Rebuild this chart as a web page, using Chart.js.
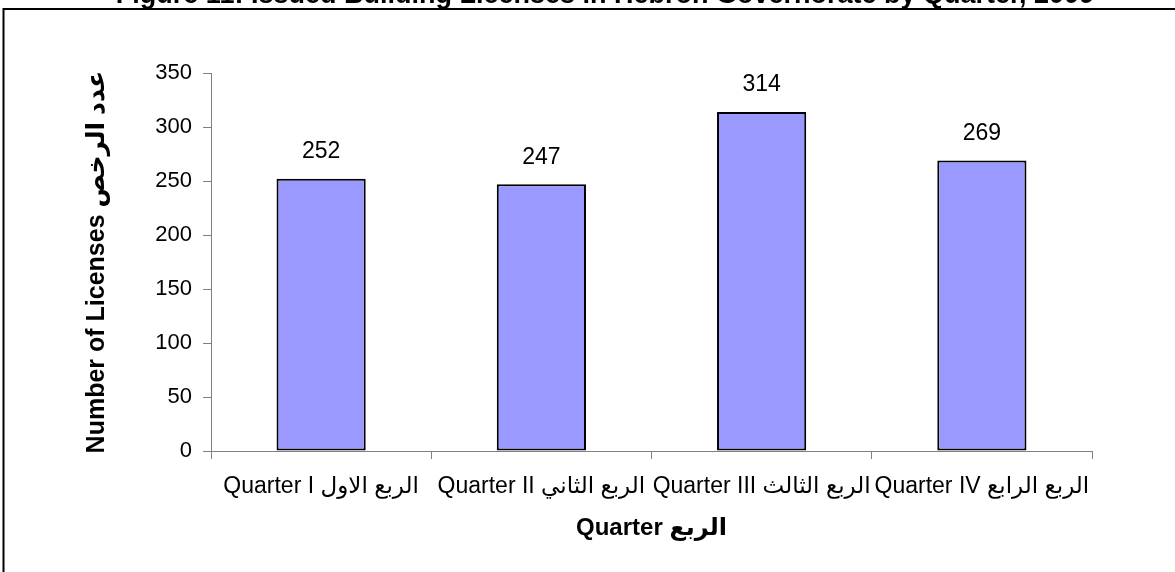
<!DOCTYPE html>
<html>
<head>
<meta charset="utf-8">
<script src="https://cdn.jsdelivr.net/npm/chart.js@4.4.1/dist/chart.umd.min.js"></script>
<style>
    html, body { margin: 0; padding: 0; background: #fff; }
    #wrap { position: relative; width: 1175px; height: 572px; overflow: hidden; }
</style>
</head>
<body>
<div id="wrap"><canvas id="main-canvas" width="1175" height="572"></canvas></div>
<script>
// chart data
const quarters = [
    'Quarter I الربع الاول',
    'Quarter II الربع الثاني',
    'Quarter III الربع الثالث',
    'Quarter IV الربع الرابع'
];
const licenses = [252, 247, 314, 269];
const yTicks = [0, 50, 100, 150, 200, 250, 300, 350];

const chartTitle = 'Figure 11: Issued Building Licenses in Hebron Governorate by Quarter, 2009';
const xTitle = 'Quarter الربع';
const yTitle = 'Number of Licenses عدد الرخص';

const FONT = '"Liberation Sans", Arial, "DejaVu Sans", sans-serif';
Chart.defaults.font.family = FONT;
Chart.defaults.color = '#000';

// frame + cut off heading, like the pasted excel chart
const framePlugin = {
    id: 'frame',
    beforeDraw: chart => {
        const ctx = chart.ctx;
        ctx.save();
        ctx.fillStyle = '#fff';
        ctx.fillRect(0, 0, chart.width, chart.height);
        ctx.strokeStyle = '#000';
        ctx.lineWidth = 2;
        ctx.beginPath();
        ctx.moveTo(3.5, chart.height + 5);
        ctx.lineTo(3.5, 9);
        ctx.lineTo(chart.width + 5, 9);
        ctx.stroke();
        ctx.font = 'bold 27px ' + FONT;
        ctx.fillStyle = '#000';
        ctx.textAlign = 'center';
        ctx.textBaseline = 'alphabetic';
        ctx.fillText(chartTitle, 605, 3);
        ctx.restore();
    }
};

// value above every bar
const valueLabels = {
    id: 'valueLabels',
    afterDatasetsDraw: chart => {
        const ctx = chart.ctx;
        const meta = chart.getDatasetMeta(0);
        ctx.save();
        ctx.font = '23px ' + FONT;
        ctx.fillStyle = '#000';
        ctx.textAlign = 'center';
        ctx.textBaseline = 'middle';
        meta.data.forEach((bar, i) => {
            ctx.fillText(String(chart.data.datasets[0].data[i]), bar.x, bar.y - 27);
        });
        ctx.restore();
    }
};

const ctx = document.getElementById('main-canvas').getContext('2d');
const myChart = new Chart(ctx, {
    type: 'bar',
    plugins: [framePlugin, valueLabels],
    data: {
        labels: quarters,
        datasets: [{
            label: 'Licenses',
            data: licenses,
            backgroundColor: '#9999FF',
            borderColor: '#000',
            borderWidth: 2,
            borderSkipped: false,
            barPercentage: 0.405,
            categoryPercentage: 1
        }]
    },
    options: {
        responsive: false,
        animation: false,
        layout: { padding: { top: 73, right: 83, bottom: 0, left: 0 } },
        plugins: {
            legend: { display: false },
            tooltip: { enabled: false },
            title: { display: false }
        },
        scales: {
            x: {
                afterFit: s => { s.height = 572 - 451; },
                grid: { display: true, drawOnChartArea: false, drawTicks: true, tickLength: 8, color: '#808080', offset: true },
                border: { display: true, color: '#808080', width: 1 },
                ticks: { font: { size: 23 }, padding: 14, maxRotation: 0, autoSkip: false },
                title: { display: true, text: xTitle, font: { size: 24, weight: 'bold' }, padding: { top: 0, bottom: 29 } }
            },
            y: {
                min: 0,
                max: 350,
                afterFit: s => { s.width = 211; },
                afterBuildTicks: axis => axis.ticks = yTicks.map(v => ({ value: v })),
                grid: { display: true, drawOnChartArea: false, drawTicks: true, tickLength: 8, color: '#808080' },
                border: { display: true, color: '#808080', width: 1 },
                ticks: { font: { size: 22 }, padding: 11 },
                title: { display: true, text: yTitle, font: { size: 25, weight: 'bold' }, padding: { top: 82, bottom: 0 } }
            }
        }
    }
});
</script>
</body>
</html>
